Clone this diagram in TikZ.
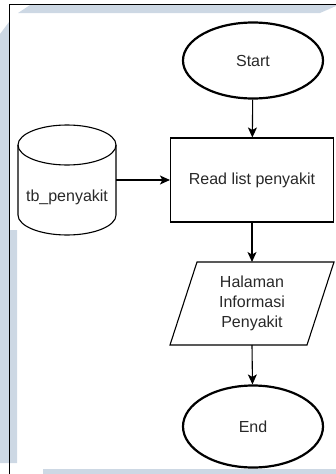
\documentclass[tikz,border=0pt]{standalone}
\usepackage{fontspec}
\setmainfont{Liberation Sans}
\usetikzlibrary{arrows.meta,shapes.geometric}
\definecolor{wmark}{RGB}{205,216,228}
\definecolor{ink}{RGB}{40,40,40}
\tikzset{
  terminal/.style={ellipse,draw=black,line width=2.2pt,minimum width=140pt,minimum height=76pt,inner sep=0pt,font=\fontsize{16}{19}\selectfont,text=ink},
  process/.style={rectangle,draw=black,line width=1.1pt,minimum width=163pt,minimum height=84pt,inner sep=0pt,font=\fontsize{16}{19}\selectfont,text=ink},
  label/.style={inner sep=0pt,font=\fontsize{16}{20}\selectfont,text=ink,align=center},
  outline/.style={draw=black,line width=1.1pt},
  flow/.style={draw=black,line width=1.1pt,-{Stealth[length=10pt,width=9pt,inset=2.5pt]}},
  frame/.style={draw=black,line width=1pt},
}
\begin{document}
\begin{tikzpicture}[x=1pt,y=-1pt]
\useasboundingbox (0,0) rectangle (336,474);
% pale background bands
\fill[wmark] (0,34) -- (9,22) -- (9,230) -- (17,230) -- (17,463) -- (0,463) -- cycle;
\fill[wmark] (18,13) -- (30,5) -- (336,5) -- (336,6) -- (320,13) -- cycle;
\fill[wmark] (43,469) rectangle (336,474);
% page frame
\draw[frame] (9,474) -- (9,4) -- (336,4);

% start / end terminals
\node[terminal] (start) at (253,60.5) {Start};
\node[terminal,minimum height=82pt] (end) at (253,426.5) {End};

% process box
\node[process] (read) at (252,180) {Read list penyakit};

% database cylinder
\node[minimum width=98pt,minimum height=110pt,inner sep=0pt] (db) at (67,180) {};
\draw[outline] (18,145) arc[start angle=180,end angle=-180,x radius=49,y radius=20];
\draw[outline] (18,145) -- (18,215) arc[start angle=180,end angle=360,x radius=49,y radius=-20] -- (116,145);
\node[label] (dbtext) at (67,197) {tb\_penyakit};

% output parallelogram
\coordinate (oTL) at (197,262);
\coordinate (oTR) at (334,262);
\coordinate (oBR) at (307,345);
\coordinate (oBL) at (170,345);
\draw[outline] (oTL) -- (oTR) -- (oBR) -- (oBL) -- cycle;
\node[label] (out) at (252,303) {Halaman\\Informasi\\Penyakit};
\coordinate (outtop) at (252,262);
\coordinate (outbot) at (252,345);

% connectors
\draw[flow] (start) -- (read);
\draw[flow] (db.east) -- (read.west);
\draw[flow] (read) -- (outtop);
\draw[flow] (outbot) -- (end);
\end{tikzpicture}
\end{document}
